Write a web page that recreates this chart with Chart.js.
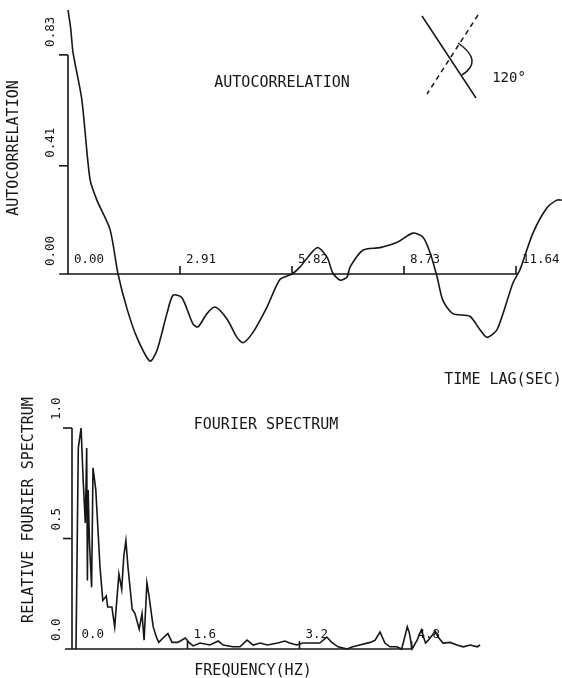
<!DOCTYPE html>
<html>
<head>
<meta charset="utf-8">
<script src="https://cdn.jsdelivr.net/npm/chart.js@4/dist/chart.umd.min.js"></script>
<style>
  body { margin: 0; background: #fff; }
  #lienzo { position: relative; width: 562px; height: 678px; }
  canvas { position: absolute; left: 0; top: 0; }
</style>
</head>
<body>
<div id="lienzo">
  <canvas id="graficoAuto" width="562" height="678"></canvas>
  <canvas id="graficoFourier" width="562" height="678"></canvas>
</div>
<script>
// Autocorrelación: retraso (s) y valor
const retrasos = [0, 0.07, 0.13, 0.36, 0.57, 0.75, 1.09, 1.30, 1.53, 1.79, 2.13, 2.31, 2.57, 2.73, 2.96,
  3.25, 3.38, 3.61, 3.82, 4.13, 4.39, 4.55, 4.81, 5.17, 5.51, 5.82, 6.03, 6.47, 6.73, 6.88, 7.07, 7.25, 7.33,
  7.66, 8.11, 8.55, 8.96, 9.22, 9.41, 9.59, 9.74, 10.00, 10.44, 10.70, 10.89, 11.15, 11.56, 11.74, 12.08,
  12.44, 12.70, 12.83];
const autocorrelacion = [1.0, 0.93, 0.84, 0.66, 0.36, 0.28, 0.17, 0.00, -0.13, -0.24, -0.33, -0.29, -0.15,
  -0.08, -0.09, -0.19, -0.20, -0.15, -0.125, -0.17, -0.24, -0.26, -0.22, -0.125, -0.02, 0.00, 0.027, 0.10,
  0.064, 0.004, -0.023, -0.011, 0.027, 0.09, 0.10, 0.12, 0.155, 0.14, 0.08, -0.011, -0.10, -0.15, -0.16,
  -0.21, -0.24, -0.21, -0.034, 0.015, 0.155, 0.25, 0.28, 0.28];
const marcasRetraso = [0, 2.91, 5.82, 8.73, 11.64];
const etiquetasRetraso = ['0.00', '2.91', '5.82', '8.73', '11.64'];
const marcasAuto = [0, 0.41, 0.83];
const etiquetasAuto = ['0.00', '0.41', '0.83'];

// Espectro de Fourier relativo: frecuencia (Hz) y amplitud
const frecuencias = [0.007, 0.04, 0.08, 0.11, 0.14, 0.16, 0.17, 0.18, 0.20, 0.23, 0.25, 0.29, 0.35, 0.39, 0.44,
  0.46, 0.52, 0.56, 0.62, 0.66, 0.69, 0.72, 0.75, 0.81, 0.85, 0.91, 0.95, 0.98, 1.02, 1.05, 1.11, 1.16, 1.19,
  1.25, 1.32, 1.38, 1.46, 1.57, 1.62, 1.68, 1.78, 1.92, 2.04, 2.11, 2.25, 2.35, 2.45, 2.54, 2.64, 2.74, 2.89,
  2.99, 3.06, 3.16, 3.25, 3.35, 3.49, 3.59, 3.66, 3.75, 3.88, 3.96, 4.06, 4.21, 4.28, 4.35, 4.42, 4.49, 4.59,
  4.66, 4.74, 4.77, 4.81, 4.88, 4.94, 5.00, 5.04, 5.14, 5.18, 5.25, 5.35, 5.45, 5.54, 5.64, 5.74, 5.78];
const espectro = [0, 0.91, 1.0, 0.76, 0.57, 0.91, 0.31, 0.72, 0.48, 0.28, 0.82, 0.72, 0.37, 0.22, 0.24,
  0.19, 0.19, 0.10, 0.34, 0.27, 0.42, 0.49, 0.37, 0.18, 0.16, 0.09, 0.16, 0.04, 0.30, 0.24, 0.10, 0.05, 0.03,
  0.05, 0.07, 0.03, 0.03, 0.05, 0.03, 0.014, 0.027, 0.018, 0.036, 0.018, 0.01, 0.01, 0.04, 0.018, 0.027, 0.018, 0.027,
  0.036, 0.027, 0.018, 0.027, 0.027, 0.027, 0.054, 0.03, 0.01, 0, 0.01, 0.018, 0.03, 0.04, 0.077, 0.027, 0.01, 0.01,
  0, 0.10, 0.072, 0, 0.04, 0.086, 0.027, 0.04, 0.08, 0.054, 0.027, 0.03, 0.018, 0.01, 0.018, 0.01, 0.018];
const marcasFrec = [0, 1.6, 3.2, 4.8];
const etiquetasFrec = ['0.0', '1.6', '3.2', '4.8'];
const marcasEspectro = [0, 0.5, 1.0];
const etiquetasEspectro = ['0.0', '0.5', '1.0'];

const TINTA = '#161616';
const FUENTE = '"DejaVu Sans Mono", "Liberation Mono", monospace';

// Texto con rotación opcional
function texto(ctx, str, x, y, opts) {
  ctx.save();
  ctx.translate(x, y);
  if (opts.rot) ctx.rotate(opts.rot);
  ctx.font = opts.font;
  ctx.textAlign = opts.align || 'center';
  ctx.textBaseline = opts.base || 'middle';
  ctx.fillStyle = TINTA;
  ctx.fillText(str, 0, 0);
  ctx.restore();
}

// Ejes estilo plotter: cruzan en cero, etiquetas encima de las marcas
function pluginEjes(cfg) {
  return {
    id: 'ejes',
    afterDatasetsDraw(chart) {
      const ctx = chart.ctx;
      const sx = chart.scales.x, sy = chart.scales.y;
      const x0 = sx.getPixelForValue(cfg.ejeYEn);
      const y0 = sy.getPixelForValue(0);
      const yTop = sy.getPixelForValue(cfg.marcasY[cfg.marcasY.length - 1]);

      ctx.save();
      ctx.strokeStyle = TINTA;
      ctx.lineWidth = 1.6;
      ctx.beginPath();
      ctx.moveTo(sx.getPixelForValue(cfg.ejeXDesde), y0);
      ctx.lineTo(sx.getPixelForValue(cfg.ejeXHasta), y0);
      ctx.moveTo(x0, y0);
      ctx.lineTo(x0, yTop);
      ctx.stroke();

      // marcas del eje x
      cfg.marcasX.forEach((v, i) => {
        const px = sx.getPixelForValue(v);
        if (v !== 0) {
          ctx.beginPath();
          ctx.moveTo(px, y0);
          ctx.lineTo(px, y0 - 8);
          ctx.stroke();
        }
        texto(ctx, cfg.etiquetasX[i], px + 6, y0 - 11, { font: '12.5px ' + FUENTE, align: 'left', base: 'alphabetic' });
      });

      // marcas del eje y
      cfg.marcasY.forEach((v, i) => {
        const py = sy.getPixelForValue(v);
        if (v !== 0) {
          ctx.beginPath();
          ctx.moveTo(x0 - 9, py);
          ctx.lineTo(x0, py);
          ctx.stroke();
        }
        texto(ctx, cfg.etiquetasY[i], cfg.xEtiquetaY, py - 8, { font: '12.5px ' + FUENTE, align: 'left', rot: -Math.PI / 2 });
      });
      ctx.restore();

      cfg.extra(ctx);
    }
  };
}

function crearGrafica(id, xs, ys, escalas, tension, ejes) {
  const ctx = document.getElementById(id).getContext('2d');
  return new Chart(ctx, {
    type: 'line',
    data: {
      datasets: [{
        data: xs.map((x, i) => ({ x: x, y: ys[i] })),
        borderColor: TINTA,
        borderWidth: 1.6,
        pointRadius: 0,
        tension: tension,
        fill: false
      }]
    },
    options: {
      responsive: false,
      animation: false,
      devicePixelRatio: 1,
      layout: { padding: 0 },
      plugins: { legend: { display: false }, tooltip: { enabled: false } },
      scales: {
        x: { type: 'linear', display: false, min: escalas.xMin, max: escalas.xMax },
        y: { type: 'linear', display: false, min: escalas.yMin, max: escalas.yMax }
      }
    },
    plugins: [pluginEjes(ejes)]
  });
}

// Panel superior: autocorrelación
crearGrafica('graficoAuto', retrasos, autocorrelacion,
  { xMin: -1.7667, xMax: 12.835, yMin: -1.530, yMax: 1.0379 }, 0.25,
  {
    ejeYEn: 0, ejeXDesde: -0.23, ejeXHasta: 11.69,
    marcasX: marcasRetraso, etiquetasX: etiquetasRetraso,
    marcasY: marcasAuto, etiquetasY: etiquetasAuto, xEtiquetaY: 51,
    extra(ctx) {
      const f = '15px ' + FUENTE;
      texto(ctx, 'AUTOCORRELATION', 282, 83, { font: f });
      texto(ctx, 'AUTOCORRELATION', 14, 148, { font: f, rot: -Math.PI / 2 });
      texto(ctx, 'TIME LAG(SEC)', 503, 380, { font: f });
      // esquema del ángulo de 120°
      ctx.save();
      ctx.strokeStyle = TINTA;
      ctx.lineWidth = 1.5;
      ctx.beginPath();
      ctx.moveTo(422, 16); ctx.lineTo(476, 98);
      ctx.stroke();
      ctx.setLineDash([5, 4]);
      ctx.beginPath();
      ctx.moveTo(478, 15); ctx.lineTo(427, 94);
      ctx.stroke();
      ctx.setLineDash([]);
      ctx.beginPath();
      ctx.moveTo(458, 43); ctx.quadraticCurveTo(484, 61, 462, 75);
      ctx.stroke();
      ctx.restore();
      texto(ctx, '120°', 509, 78, { font: '14px ' + FUENTE });
    }
  });

// Panel inferior: espectro de Fourier
crearGrafica('graficoFourier', frecuencias, espectro,
  { xMin: -1.0786, xMax: 6.95, yMin: -0.1312, yMax: 2.937 }, 0,
  {
    ejeYEn: -0.05, ejeXDesde: -0.15, ejeXHasta: 4.8,
    marcasX: marcasFrec, etiquetasX: etiquetasFrec,
    marcasY: marcasEspectro, etiquetasY: etiquetasEspectro, xEtiquetaY: 57,
    extra(ctx) {
      const f = '15px ' + FUENTE;
      texto(ctx, 'FOURIER SPECTRUM', 266, 425, { font: f });
      texto(ctx, 'RELATIVE FOURIER SPECTRUM', 29, 510, { font: f, rot: -Math.PI / 2 });
      texto(ctx, 'FREQUENCY(HZ)', 253, 671, { font: f });
    }
  });
</script>
</body>
</html>
